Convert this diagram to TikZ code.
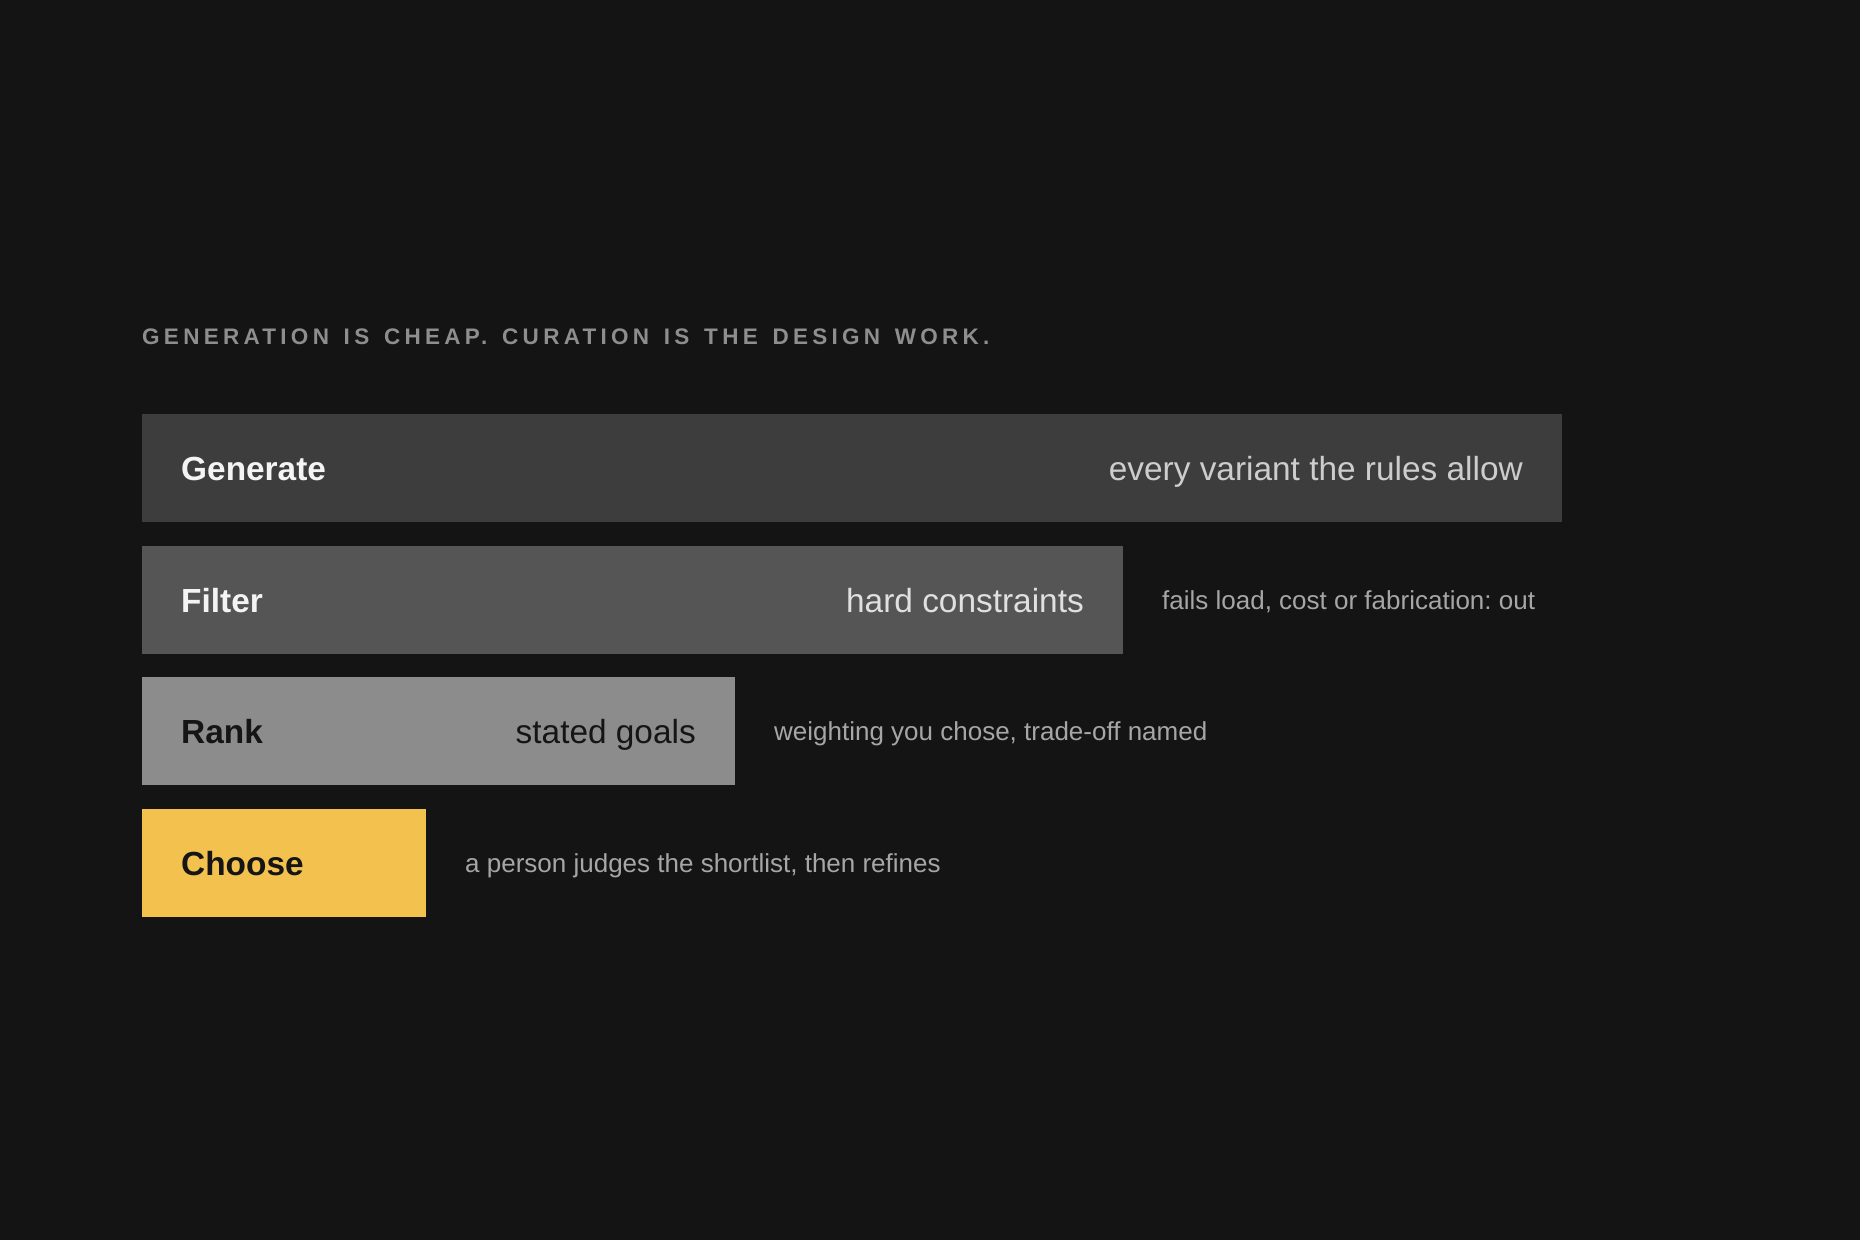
\documentclass[tikz,border=0pt]{standalone}
\usepackage{fontspec}
\setmainfont{Liberation Sans}
\newfontfamily\trackfont[LetterSpace=19,WordSpace=1.4]{Liberation Sans}
\definecolor{bgc}{HTML}{141414}
\definecolor{genc}{HTML}{3D3D3D}
\definecolor{filc}{HTML}{555555}
\definecolor{rnkc}{HTML}{8C8C8C}
\definecolor{chsc}{HTML}{F2C14E}
\definecolor{titc}{HTML}{8E8E8E}
\definecolor{sidec}{HTML}{A6A6A6}
\definecolor{lightc}{HTML}{F4F4F4}
\definecolor{softc}{HTML}{CDCDCD}
\definecolor{darkc}{HTML}{151515}
\tikzset{
  bar/.style={rectangle, inner sep=0pt, anchor=north west, minimum height=108pt},
  big/.style={inner sep=0pt, font=\fontsize{33.4}{40}\selectfont},
  bigb/.style={inner sep=0pt, font=\fontsize{33.4}{40}\selectfont\bfseries},
  side/.style={inner sep=0pt, anchor=base west, text=sidec, font=\fontsize{26}{32}\selectfont},
  ttl/.style={inner sep=0pt, anchor=base west, text=titc, font=\trackfont\fontsize{22.5}{28}\selectfont\bfseries}
}
\begin{document}
\frenchspacing
\begin{tikzpicture}[x=1pt,y=-1pt]
\fill[bgc] (0,0) rectangle (1860,1240);
\useasboundingbox (0,0) rectangle (1860,1240);

\node[ttl] (title) at (142,344) {GENERATION IS CHEAP. CURATION IS THE DESIGN WORK.};

\node[bar, fill=genc, minimum width=1420pt] (gen) at (142,414) {};
\node[bar, fill=filc, minimum width=981pt] (fil) at (142,546) {};
\node[bar, fill=rnkc, minimum width=593pt] (rnk) at (142,677) {};
\node[bar, fill=chsc, minimum width=284pt] (chs) at (142,809) {};

\node[bigb, anchor=base west, text=lightc] (genL) at (181,480) {Generate};
\node[big, anchor=base east, text=softc] (genR) at (1523,480) {every variant the rules allow};

\node[bigb, anchor=base west, text=lightc] (filL) at (181,612) {Filter};
\node[big, anchor=base east, text=lightc!92!black] (filR) at (1084,612) {hard constraints};
\node[side] (filS) at (1162,609) {fails load, cost or fabrication: out};

\node[bigb, anchor=base west, text=darkc] (rnkL) at (181,743) {Rank};
\node[big, anchor=base east, text=darkc] (rnkR) at (696,743) {stated goals};
\node[side] (rnkS) at (774,740) {weighting you chose, trade-off named};

\node[bigb, anchor=base west, text=darkc] (chsL) at (181,875) {Choose};
\node[side] (chsS) at (465,872) {a person judges the shortlist, then refines};
\end{tikzpicture}
\end{document}
